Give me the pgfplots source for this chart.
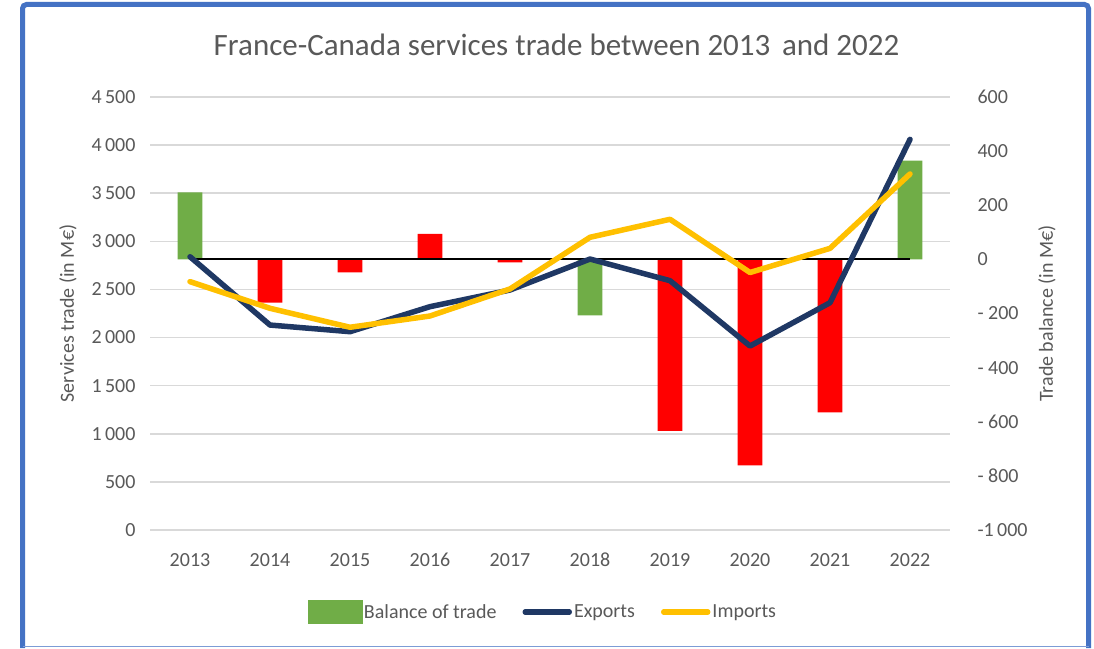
\documentclass[border=0pt]{standalone}
\usepackage{pgfplots}
\pgfplotsset{compat=1.18}
\usepackage{fontspec}
\setmainfont{Carlito}

\definecolor{txt}{HTML}{595959}
\definecolor{gridc}{HTML}{D9D9D9}
\definecolor{barg}{HTML}{70AD47}
\definecolor{barr}{HTML}{FF0000}
\definecolor{expc}{HTML}{1F3864}
\definecolor{impc}{HTML}{FFC000}
\definecolor{frame}{HTML}{4472C4}

\pgfplotsset{
  base/.style={
    at={(150pt,118pt)}, anchor=south west,
    scale only axis, width=800pt, height=433pt,
    xmin=-0.5, xmax=9.5,
    major tick length=0pt,
    tick label style={font=\fontsize{20}{24}\selectfont, text=txt},
    label style={font=\fontsize{20}{24}\selectfont, text=txt},
  },
  linelegend/.style={legend image code/.code={\draw[##1] (2.5pt,0pt) -- (46.5pt,0pt);}},
  barlegend/.style={legend image code/.code={\fill[barg] (0pt,-11.5pt) rectangle (54pt,11.5pt);}},
}

\begin{document}
\begin{tikzpicture}[x=1pt,y=1pt]
\useasboundingbox (0,0) rectangle (1094,648);
\fill[white] (0,0) rectangle (1094,648);

% left scale, grid and year labels
\begin{axis}[base,
  ymin=0, ymax=4500,
  axis x line=bottom, axis y line=left,
  axis line style={draw=none},
  ymajorgrids, grid style={gridc, line width=1.5pt},
  xtick={0,...,9},
  xticklabels={2013,2014,2015,2016,2017,2018,2019,2020,2021,2022},
  xticklabel style={yshift=-19pt, text height=14pt, text depth=0pt},
  ytick={0,500,...,4500},
  yticklabels={0,500,1\,000,1\,500,2\,000,2\,500,3\,000,3\,500,4\,000,4\,500},
  yticklabel style={xshift=-11pt},
  ylabel={Services trade (in M€)},
  ylabel style={at={(axis description cs:-0.1025,0.5)}, anchor=center, rotate=0},
]
\end{axis}

% right scale: balance of trade
\begin{axis}[base,
  ymin=-1000, ymax=600,
  axis x line=none, axis y line*=right,
  axis line style={draw=none},
  ytick={-1000,-800,...,600},
  yticklabels={-1\,000,- 800,- 600,- 400,- 200,0,200,400,600},
  yticklabel style={xshift=24pt},
  ylabel={Trade balance (in M€)},
  ylabel style={at={(axis description cs:1.12125,0.5)}, anchor=center, rotate=0},
]
\addplot[ybar, bar width=0.31, bar shift=0pt, fill=barg, draw=none]
  coordinates {(0,248)(5,-207)(9,365)};
\addplot[ybar, bar width=0.31, bar shift=0pt, fill=barr, draw=none]
  coordinates {(1,-160)(2,-48)(3,94)(4,-11)(6,-634)(7,-761)(8,-565)};
\addplot[black, line width=2pt] coordinates {(0,0)(9,0)};
\end{axis}

% exports and imports
\begin{axis}[base,
  ymin=0, ymax=4500, hide axis,
  legend columns=3, legend cell align=left,
  legend style={at={(axis description cs:0.491,-0.1894)}, anchor=center,
    draw=none, fill=none, font=\fontsize{20}{24}\selectfont, text=txt,
    nodes={inner xsep=2pt},
    /tikz/every even column/.append style={column sep=24pt}},
]
\addlegendimage{barlegend}
\addlegendentry{Balance of trade}
\addplot[expc, line width=5.5pt, line join=round, line cap=round, no markers, linelegend]
  coordinates {(0,2840)(1,2130)(2,2061)(3,2321)(4,2494)(5,2816)(6,2591)(7,1912)(8,2362)(9,4060)};
\addlegendentry{Exports}
\addplot[impc, line width=5.5pt, line join=round, line cap=round, no markers, linelegend]
  coordinates {(0,2581)(1,2304)(2,2107)(3,2224)(4,2505)(5,3042)(6,3229)(7,2676)(8,2927)(9,3700)};
\addlegendentry{Imports}
\end{axis}

\node[font=\fontsize{31}{36}\selectfont, text=txt] at (556.5,603)
  {France-Canada services trade between 2013\hspace{0.15em} and 2022};

% frame
\draw[frame, line width=5pt, rounded corners=4pt]
  (22.5,0) -- (22.5,643.5) -- (1088.5,643.5) -- (1088.5,0);
\draw[frame!70, line width=1.5pt] (22.5,1.5) -- (1088.5,1.5);
\end{tikzpicture}
\end{document}
